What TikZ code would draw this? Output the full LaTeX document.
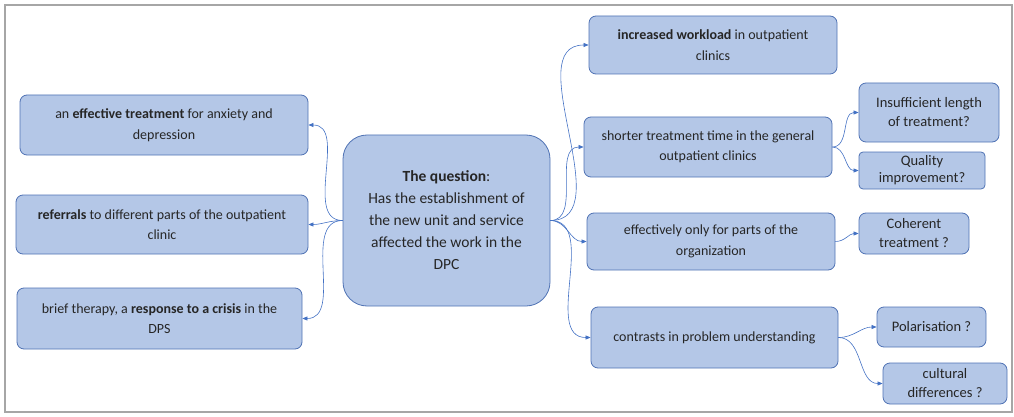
\documentclass[tikz,border=0pt]{standalone}
\usepackage{fontspec}
\setmainfont{Carlito}
\usetikzlibrary{arrows.meta}
\definecolor{boxfill}{HTML}{B4C7E7}
\definecolor{boxline}{HTML}{4F72B4}
\definecolor{arrowc}{HTML}{4472C4}
\definecolor{txt}{HTML}{262626}
\definecolor{frame}{HTML}{A6A6A6}
\tikzset{
  box/.style={draw=boxline, fill=boxfill, line width=0.8pt, rounded corners=7pt,
    align=center, inner sep=2pt, text=txt,
    font=\fontsize{14}{20.5}\selectfont},
  smallbox/.style={box, font=\fontsize{14.5}{19}\selectfont},
  qbox/.style={box, rounded corners=24pt, font=\fontsize{15.5}{22}\selectfont},
  link/.style={draw=arrowc, line width=0.6pt, -{Triangle[length=5pt,width=4pt]}},
}
\begin{document}
\begin{tikzpicture}[x=1pt,y=-1pt]
\useasboundingbox (0,0) rectangle (1014,417);
\draw[frame, line width=1.5pt] (5,5) rectangle (1012,412);

\node[box, minimum width=288pt, minimum height=60pt] (L1) at (164,125)
  {an \textbf{effective treatment} for anxiety and\\depression};
\node[box, minimum width=292pt, minimum height=59pt] (L2) at (162,224.5)
  {\textbf{referrals} to different parts of the outpatient\\clinic};
\node[box, minimum width=285pt, minimum height=61pt] (L3) at (159.5,318.5)
  {brief therapy, a \textbf{response to a crisis} in the\\DPS};

\node[qbox, minimum width=207pt, minimum height=171pt] (C) at (446.5,220.5)
  {\textbf{The question}:\\Has the establishment of\\the new unit and service\\affected the work in the\\DPC};

\node[box, minimum width=248pt, minimum height=58pt] (R1) at (713,45)
  {\textbf{increased workload} in outpatient\\clinics};
\node[box, minimum width=248pt, minimum height=60pt] (R2) at (708,147)
  {shorter treatment time in the general\\outpatient clinics};
\node[box, minimum width=248pt, minimum height=57pt] (R3) at (711,241.5)
  {effectively only for parts of the\\organization};
\node[box, minimum width=247pt, minimum height=61pt] (R4) at (714.5,337.5)
  {contrasts in problem understanding};

\node[smallbox, minimum width=140pt, minimum height=59pt] (S1) at (929,112.5)
  {Insufficient length\\of treatment?};
\node[smallbox, minimum width=126pt, minimum height=37pt, inner sep=0pt, rounded corners=4pt,
  font=\fontsize{14.5}{17}\selectfont] (S2) at (922,170.5)
  {Quality\\improvement?};
\node[smallbox, minimum width=110pt, minimum height=41pt, inner sep=0pt] (S3) at (914,233.5)
  {Coherent\\treatment ?};
\node[smallbox, minimum width=109pt, minimum height=40pt] (S4) at (931.5,327)
  {Polarisation ?};
\node[smallbox, minimum width=124pt, minimum height=41pt, inner sep=0pt] (S5) at (945,383.5)
  {cultural\\differences ?};

\draw[link] (C.west) to[out=180,in=0] (L1.east);
\draw[link] (C.west) to[out=180,in=0] (L2.east);
\draw[link] (C.west) to[out=180,in=0] (L3.east);

\draw[link] (C.east) to[out=0,in=180] (R1.west);
\draw[link] (C.east) to[out=0,in=180] (R2.west);
\draw[link] (C.east) to[out=0,in=180] (R3.west);
\draw[link] (C.east) to[out=0,in=180] (R4.west);

\draw[link] (R2.east) to[out=0,in=180] (S1.west);
\draw[link] (R2.east) to[out=0,in=180] (S2.west);
\draw[link] (R3.east) to[out=0,in=180] (S3.west);
\draw[link] (R4.east) to[out=0,in=180] (S4.west);
\draw[link] (R4.east) to[out=0,in=180] (S5.west);
\end{tikzpicture}
\end{document}
